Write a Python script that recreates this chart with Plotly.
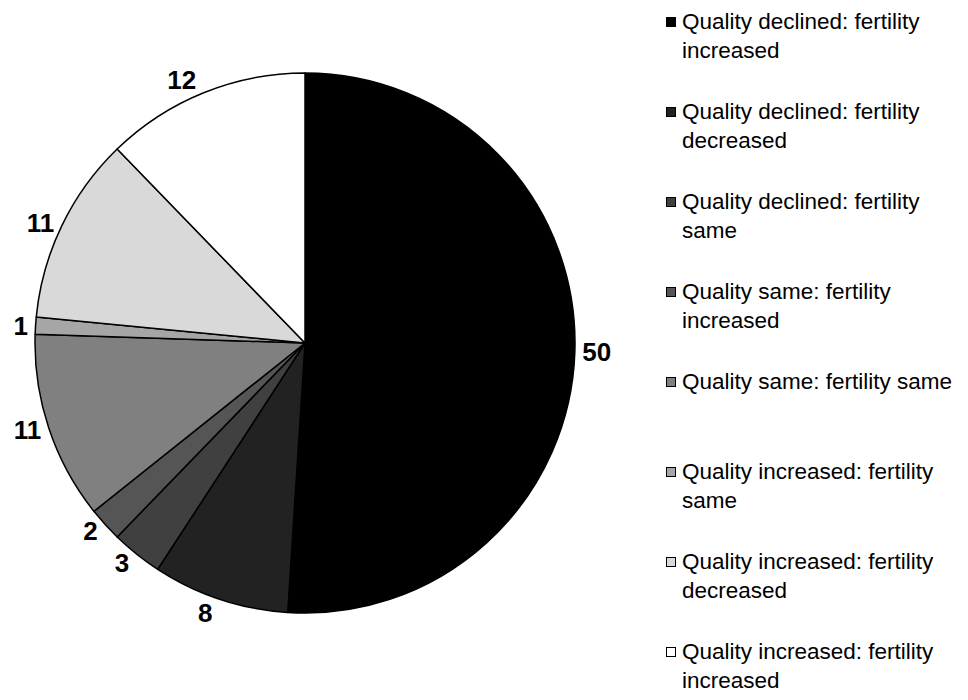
import plotly.graph_objects as go

categories = [
    "Quality declined: fertility<br>increased",
    "Quality declined: fertility<br>decreased",
    "Quality declined: fertility<br>same",
    "Quality same: fertility<br>increased",
    "Quality same: fertility same",
    "Quality increased: fertility<br>same",
    "Quality increased: fertility<br>decreased",
    "Quality increased: fertility<br>increased",
]
values = [50, 8, 3, 2, 11, 1, 11, 12]
colors = ["#000000", "#222222", "#404040", "#555555", "#808080", "#a6a6a6", "#d9d9d9", "#ffffff"]

W, H = 968, 700
cx, cy, r = 297, 335, 270
FONT = "Liberation Sans, Arial, sans-serif"

fig = go.Figure(go.Pie(
    labels=[c.replace("<br>", " ") for c in categories],
    values=values,
    sort=False,
    direction="clockwise",
    rotation=0,
    marker=dict(colors=colors, line=dict(color="#000000", width=1.5)),
    textinfo="value",
    texttemplate="<b>%{value}</b>",
    textposition="outside",
    outsidetextfont=dict(family=FONT, size=26, color="#000000"),
    domain=dict(x=[(cx - r) / W, (cx + r) / W], y=[(H - cy - r) / H, (H - cy + r) / H]),
    hoverinfo="label+value",
    showlegend=False,
))

# legend drawn as annotations (layout only): square key + wrapped label per category
LEG_TOP = 22      # centre of first text line of first entry (px from top)
LEG_STEP = 90     # distance between entries (px)
LEG_FONT = 22.5
annotations = []
for i, (cat, col) in enumerate(zip(categories, colors)):
    yc = LEG_TOP + i * LEG_STEP
    annotations.append(dict(
        xref="paper", yref="paper",
        x=663 / W, y=1 - (yc - 8) / H,
        xanchor="center", yanchor="middle",
        text="\u00a0", showarrow=False,
        font=dict(size=1),
        width=8, height=8, borderpad=0,
        bgcolor=col, bordercolor="#000000", borderwidth=1,
    ))
    annotations.append(dict(
        xref="paper", yref="paper",
        x=672 / W, y=1 - (yc - 22.6) / H,
        xanchor="left", yanchor="top", align="left",
        text=cat, showarrow=False,
        font=dict(family=FONT, size=LEG_FONT, color="#000000"),
        borderpad=1,
    ))

fig.update_layout(
    width=W, height=H,
    margin=dict(l=0, r=0, t=0, b=0),
    paper_bgcolor="white",
    plot_bgcolor="white",
    annotations=annotations,
)

fig.write_html("out.html")
